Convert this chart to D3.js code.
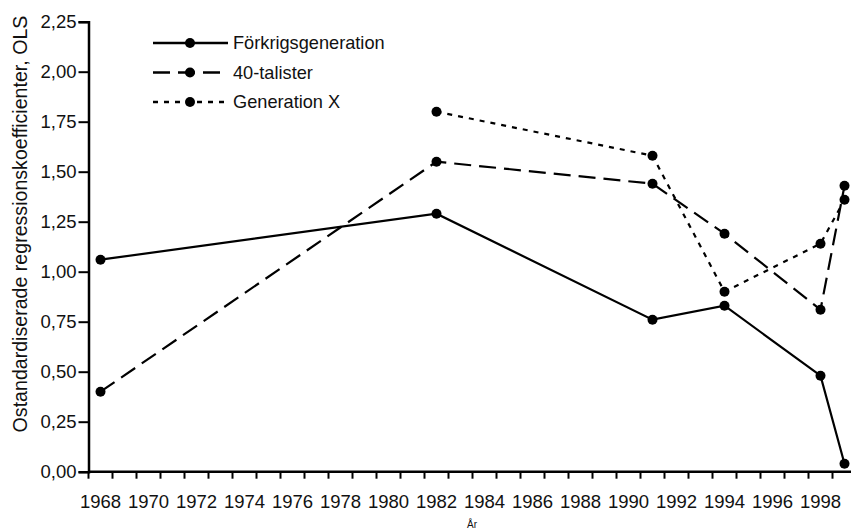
<!DOCTYPE html>
<html>
<head>
<meta charset="utf-8">
<script src="https://cdn.jsdelivr.net/npm/d3@7"></script>
<style>
  body { margin: 0; background: #fff; }
  svg { font-family: "Liberation Sans", Arial, sans-serif; }
</style>
</head>
<body>
<div id="chart"></div>
<script>
// data
var categories = d3.range(1968, 2000);
var years = [1968, 1982, 1991, 1994, 1998, 1999];
var forkrigsgeneration = [1.06, 1.29, 0.76, 0.83, 0.48, 0.04];
var fyrtiotalister = [0.40, 1.55, 1.44, 1.19, 0.81, 1.43];
var generationX = [null, 1.80, 1.58, 0.90, 1.14, 1.36];
var yTicks = [0, 0.25, 0.5, 0.75, 1, 1.25, 1.5, 1.75, 2, 2.25];

var series = [
  { name: 'Förkrigsgeneration', values: forkrigsgeneration, dash: null },
  { name: '40-talister', values: fyrtiotalister, dash: '17,8' },
  { name: 'Generation X', values: generationX, dash: '5,6' }
];

var WIDTH = 851, HEIGHT = 530;
var LEFT = 88.5, STEP = 24, TOP = 21.7, BOTTOM = 471.7;
var TICK_FONT = 18.5, LEGEND_FONT = 18.2, TITLE_FONT = 19.6;
var FAMILY = '"Liberation Sans", Arial, sans-serif';

var sv = d3.formatLocale({ decimal: ',', thousands: ' ', grouping: [3], currency: ['', ' kr'] });
var fmt = sv.format('.2f');

var svg = d3.select('#chart').append('svg')
  .attr('width', WIDTH)
  .attr('height', HEIGHT);

var x = d3.scaleBand()
  .domain(categories)
  .range([LEFT, LEFT + categories.length * STEP])
  .padding(0);

var y = d3.scaleLinear()
  .domain([0, 2.25])
  .range([BOTTOM, TOP]);

var cx = function (yr) { return x(yr) + x.bandwidth() / 2; };

// y axis
var yAxis = svg.append('g')
  .attr('transform', `translate(${LEFT},0)`)
  .call(d3.axisLeft(y).tickValues(yTicks).tickFormat(fmt).tickSize(10).tickPadding(2));
yAxis.select('.domain').attr('stroke', '#000').attr('stroke-width', 2.5);
yAxis.selectAll('.tick line').attr('stroke', '#000').attr('stroke-width', 2);
yAxis.selectAll('.tick text').attr('font-size', TICK_FONT).attr('fill', '#111')
  .attr('font-family', FAMILY);

// x axis: labels centred in the categories, ticks between them
var xAxis = svg.append('g')
  .attr('transform', `translate(0,${BOTTOM})`)
  .call(d3.axisBottom(x)
    .tickValues(categories.filter(function (d) { return d % 2 === 0; }))
    .tickSize(0).tickPadding(23.5));
xAxis.select('.domain').remove();
xAxis.selectAll('.tick text').attr('font-size', TICK_FONT).attr('fill', '#111')
  .attr('font-family', FAMILY);

xAxis.append('line')
  .attr('x1', LEFT).attr('x2', x.range()[1])
  .attr('stroke', '#000').attr('stroke-width', 2.5);

xAxis.selectAll('line.cat-tick')
  .data(categories)
  .enter()
  .append('line')
  .attr('class', 'cat-tick')
  .attr('x1', function (d) { return x(d); })
  .attr('x2', function (d) { return x(d); })
  .attr('y1', 0).attr('y2', 7)
  .attr('stroke', '#000').attr('stroke-width', 2);

// axis titles
svg.append('text')
  .attr('transform', 'translate(27,224)rotate(-90)')
  .attr('text-anchor', 'middle')
  .attr('font-size', TITLE_FONT)
  .attr('fill', '#111')
  .text('Ostandardiserade regressionskoefficienter, OLS');

svg.append('text')
  .attr('x', 472)
  .attr('y', 528)
  .attr('text-anchor', 'middle')
  .attr('font-size', 10)
  .attr('fill', '#111')
  .text('År');

// lines and markers
var line = d3.line()
  .x(function (d) { return cx(d.year); })
  .y(function (d) { return y(d.v); });

series.forEach(function (s) {
  var pts = years.map(function (yr, i) { return { year: yr, v: s.values[i] }; })
    .filter(function (d) { return d.v !== null; });
  var g = svg.append('g');
  g.append('path')
    .datum(pts)
    .attr('d', line)
    .attr('fill', 'none')
    .attr('stroke', '#000')
    .attr('stroke-width', 2.2)
    .attr('stroke-dasharray', s.dash);
  g.selectAll('circle')
    .data(pts)
    .enter()
    .append('circle')
    .attr('cx', function (d) { return cx(d.year); })
    .attr('cy', function (d) { return y(d.v); })
    .attr('r', 5)
    .attr('fill', '#000');
});

// legend
var legend = svg.append('g').attr('transform', 'translate(153,43)');
var rows = legend.selectAll('g')
  .data(series)
  .enter()
  .append('g')
  .attr('transform', function (d, i) { return `translate(0,${i * 29.5})`; });
rows.append('line')
  .attr('x1', 0).attr('x2', 75)
  .attr('stroke', '#000').attr('stroke-width', 2.5)
  .attr('stroke-dasharray', function (d) { return d.dash; });
rows.append('circle')
  .attr('cx', 37).attr('r', 5).attr('fill', '#000');
rows.append('text')
  .attr('x', 80)
  .attr('dy', '0.35em')
  .attr('font-size', LEGEND_FONT)
  .attr('fill', '#111')
  .text(function (d) { return d.name; });
</script>
</body>
</html>
